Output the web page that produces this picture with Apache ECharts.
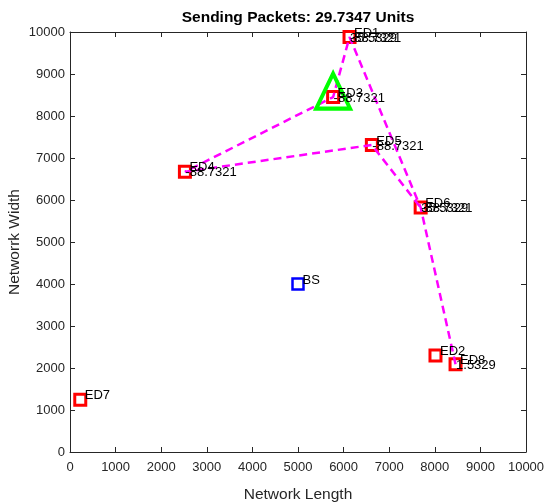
<!DOCTYPE html>
<html>
<head>
<meta charset="utf-8">
<script src="https://cdn.jsdelivr.net/npm/echarts@6/dist/echarts.min.js"></script>
<style>
  html, body { margin: 0; padding: 0; background: #fff; }
  #chart { width: 544px; height: 504px; }
</style>
</head>
<body>
<div id="chart"></div>
<script>
// End devices and their positions in the field
const nodeNames = ['ED1', 'ED2', 'ED3', 'ED4', 'ED5', 'ED6', 'ED7', 'ED8'];
const nodeX = [6130, 8015, 5770, 2520, 6620, 7690, 225, 8455];
const nodeY = [9880, 2300, 8450, 6670, 7310, 5820, 1245, 2090];

// Base station
const baseName = 'BS';
const baseX = 5000;
const baseY = 4000;

// Cluster head (drawn as a triangle on top of its device)
const headName = 'ED3';

// Packet route through the devices
const routeOrder = ['ED8', 'ED6', 'ED1', 'ED3', 'ED4', 'ED5', 'ED6'];

// Value annotations written next to the devices
const valueNodes = ['ED1', 'ED1', 'ED3', 'ED4', 'ED5', 'ED6', 'ED6', 'ED8'];
const valueTexts = ['-88.7321', '35.5329', '-88.7321', '-88.7321', '-88.7321', '-88.7321', '35.5329', '1.5329'];

const titleText = 'Sending Packets: 29.7347 Units';
const xName = 'Network Length';
const yName = 'Networrk Width';

const FONT = '"Liberation Sans", Arial, Helvetica, sans-serif';
const AXIS_COLOR = '#262626';

const posOf = name => {
  const i = nodeNames.indexOf(name);
  return [nodeX[i], nodeY[i]];
};

const nodeData = nodeNames.map((n, i) => ({ name: n, value: [nodeX[i], nodeY[i]] }));
const routeData = routeOrder.map(posOf);
const headData = [posOf(headName)];
const nameLabelData = nodeData.concat([{ name: baseName, value: [baseX, baseY] }]);
const valueLabelData = valueNodes.map((n, i) => ({ name: valueTexts[i], value: posOf(n) }));

const textLabel = (offset) => ({
  show: true,
  position: 'right',
  distance: 0,
  offset: offset,
  formatter: p => p.name,
  color: '#000',
  fontFamily: FONT,
  fontSize: 13,
  align: 'left',
  verticalAlign: 'middle'
});

const baseAxis = {
  type: 'value',
  min: 0,
  max: 10000,
  interval: 1000,
  splitLine: { show: false },
  axisLine: { show: true, onZero: false, lineStyle: { color: AXIS_COLOR, width: 1 } },
  axisTick: { show: true, inside: true, length: 5, lineStyle: { color: AXIS_COLOR, width: 1 } }
};

const plainNumber = v => String(v);

const chart = echarts.init(document.getElementById('chart'), null, { renderer: 'canvas' });

chart.setOption({
  animation: false,
  backgroundColor: '#ffffff',
  title: {
    text: titleText,
    left: 293,
    textAlign: 'center',
    top: 5,
    textStyle: { fontFamily: FONT, fontSize: 15.5, fontWeight: 'bold', color: '#000' }
  },
  grid: { left: 70, right: 18, top: 32, bottom: 52, show: false, containLabel: false, outerBoundsMode: 'none' },
  xAxis: [
    Object.assign({}, baseAxis, {
      position: 'bottom',
      name: xName,
      nameLocation: 'middle',
      nameGap: 35,
      nameTextStyle: { fontFamily: FONT, fontSize: 15.5, color: AXIS_COLOR },
      axisLabel: { color: AXIS_COLOR, fontFamily: FONT, fontSize: 13, margin: 9, formatter: plainNumber }
    }),
    Object.assign({}, baseAxis, { position: 'top', axisLabel: { show: false } })
  ],
  yAxis: [
    Object.assign({}, baseAxis, {
      position: 'left',
      name: yName,
      nameLocation: 'middle',
      nameGap: 47,
      nameMoveOverlap: false,
      nameRotate: 90,
      nameTextStyle: { fontFamily: FONT, fontSize: 15.5, color: AXIS_COLOR },
      axisLabel: { color: AXIS_COLOR, fontFamily: FONT, fontSize: 13, margin: 5, formatter: plainNumber }
    }),
    Object.assign({}, baseAxis, { position: 'right', axisLabel: { show: false } })
  ],
  series: [
    {
      name: 'devices',
      type: 'scatter',
      data: nodeData,
      symbol: 'rect',
      symbolSize: 11,
      itemStyle: { color: 'rgba(0,0,0,0)', borderColor: '#ff0000', borderWidth: 3, opacity: 1 },
      z: 2
    },
    {
      name: 'base station',
      type: 'scatter',
      data: [[baseX, baseY]],
      symbol: 'rect',
      symbolSize: 11,
      itemStyle: { color: 'rgba(0,0,0,0)', borderColor: '#0000ff', borderWidth: 2.5, opacity: 1 },
      z: 2
    },
    {
      name: 'route',
      type: 'line',
      data: routeData,
      showSymbol: false,
      symbol: 'none',
      lineStyle: { color: '#ff00ff', width: 2.5, type: [8, 5] },
      z: 3
    },
    {
      name: 'cluster head',
      type: 'scatter',
      data: headData,
      symbol: 'triangle',
      symbolSize: [34, 35],
      symbolOffset: [0, -6],
      itemStyle: { color: 'rgba(0,0,0,0)', borderColor: '#00ff00', borderWidth: 4, opacity: 1 },
      z: 4
    },
    {
      name: 'names',
      type: 'scatter',
      data: nameLabelData,
      symbol: 'circle',
      symbolSize: 1,
      itemStyle: { color: 'rgba(0,0,0,0)', opacity: 1 },
      label: textLabel([4, -4]),
      z: 5
    },
    {
      name: 'values',
      type: 'scatter',
      data: valueLabelData,
      symbol: 'circle',
      symbolSize: 1,
      itemStyle: { color: 'rgba(0,0,0,0)', opacity: 1 },
      label: textLabel([0, 1]),
      z: 5
    }
  ]
});
</script>
</body>
</html>
